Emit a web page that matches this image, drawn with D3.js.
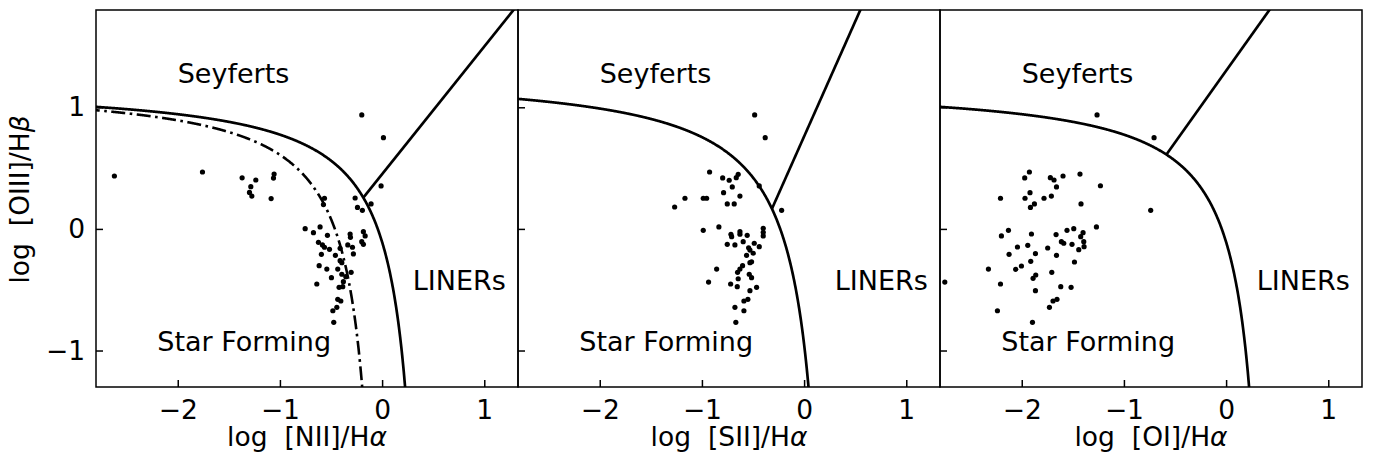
<!DOCTYPE html>
<html><head><meta charset="utf-8">
<script src="https://cdn.jsdelivr.net/npm/d3@7"></script>
<style>body{margin:0;background:#fff}svg{display:block}text{font-family:"DejaVu Sans",sans-serif;fill:#000}</style>
</head><body>
<svg id="c" width="1373" height="458"></svg>
<script>
// ---- data ----
const niiX = [-2.62,-1.758,-1.37,-1.236,-1.285,-1.298,-1.275,-1.057,-1.063,-1.086,-0.199,0.013,-0.01,-0.264,-0.108,-0.241,-0.193,-0.564,-0.574,-0.753,-0.672,-0.607,-0.535,-0.623,-0.584,-0.564,-0.515,-0.594,-0.457,-0.411,-0.313,-0.31,-0.336,-0.29,-0.281,-0.183,-0.166,-0.199,-0.183,-0.411,-0.394,-0.616,-0.541,-0.434,-0.394,-0.355,-0.303,-0.496,-0.379,-0.639,-0.421,-0.385,-0.434,-0.404,-0.443,-0.482,-0.473];
const niiY = [0.435,0.468,0.42,0.402,0.347,0.30,0.27,0.451,0.418,0.249,0.937,0.75,0.353,0.254,0.205,0.177,0.153,0.252,0.20,0.002,-0.031,0.016,-0.053,-0.11,-0.132,-0.151,-0.168,-0.209,-0.217,-0.16,-0.042,-0.069,-0.132,-0.151,-0.206,-0.023,-0.058,-0.105,-0.127,-0.261,-0.278,-0.302,-0.33,-0.33,-0.373,-0.393,-0.357,-0.401,-0.434,-0.453,-0.48,-0.475,-0.579,-0.593,-0.645,-0.673,-0.768];
const siiX = [-0.484,-0.381,-0.925,-0.797,-0.733,-0.664,-0.645,-0.703,-0.788,-0.628,-0.439,-0.752,-0.684,-1.166,-0.987,-0.954,-1.267,-0.22,-0.987,-0.834,-0.716,-0.709,-0.628,-0.628,-0.557,-0.4,-0.4,-0.4,-0.752,-0.677,-0.596,-0.543,-0.488,-0.439,-0.53,-0.498,-0.563,-0.514,-0.53,-0.602,-0.628,-0.651,-0.856,-0.537,-0.514,-0.645,-0.935,-0.719,-0.654,-0.465,-0.53,-0.55,-0.589,-0.677,-0.589,-0.668];
const siiY = [0.937,0.75,0.468,0.419,0.40,0.421,0.449,0.345,0.298,0.27,0.353,0.205,0.205,0.252,0.252,0.252,0.18,0.153,-0.012,0.016,-0.044,-0.064,-0.023,-0.044,-0.053,0.005,-0.028,-0.058,-0.127,-0.132,-0.105,-0.155,-0.118,-0.146,-0.174,-0.2,-0.217,-0.27,-0.278,-0.302,-0.33,-0.357,-0.33,-0.373,-0.401,-0.41,-0.437,-0.453,-0.475,-0.48,-0.508,-0.579,-0.593,-0.645,-0.673,-0.768];
const oiX = [-1.263,-0.705,-1.925,-1.971,-1.72,-1.684,-1.596,-1.43,-1.66,-1.23,-1.919,-2.208,-1.968,-1.782,-1.71,-1.876,-1.915,-1.42,-0.738,-2.13,-2.199,-1.905,-1.664,-1.557,-1.491,-1.269,-1.40,-1.423,-1.612,-1.589,-1.508,-1.393,-1.39,-1.442,-2.042,-1.941,-1.746,-2.124,-1.866,-1.66,-1.912,-1.484,-2.003,-2.059,-2.326,-1.706,-1.863,-1.889,-2.753,-2.208,-1.618,-1.517,-1.866,-1.655,-1.694,-1.729,-2.238,-1.895];
const oiY = [0.937,0.75,0.468,0.419,0.421,0.402,0.435,0.451,0.345,0.355,0.298,0.252,0.252,0.252,0.27,0.205,0.177,0.205,0.153,-0.012,-0.058,-0.042,-0.047,-0.012,0.002,0.016,-0.031,-0.064,-0.105,-0.118,-0.127,-0.105,-0.146,-0.171,-0.149,-0.135,-0.157,-0.209,-0.204,-0.217,-0.267,-0.272,-0.305,-0.332,-0.33,-0.357,-0.379,-0.406,-0.437,-0.453,-0.475,-0.48,-0.508,-0.579,-0.593,-0.645,-0.673,-0.768];

// demarcation curves: y = a/(x-b)+c ; lines: y = m*x + k
const kewleyNII = [0.61, 0.47, 1.19];
const kauffmannNII = [0.61, 0.05, 1.19];
const kewleySII = [0.72, 0.32, 1.30];
const linerNII = [1.05, 0.45];
const linerSII = [1.89, 0.76];
const linerOI  = [1.18, 1.30];

const xTicks = [-2, -1, 0, 1];
const yTicks = [-1, 0, 1];
const xLabels = [["[NII]/H", "\u03b1"], ["[SII]/H", "\u03b1"], ["[OI]/H", "\u03b1"]];
const yLabel = ["[OIII]/H", "\u03b2"];
const regionLabels = [["Seyferts", -2.0, 1.2], ["LINERs", 0.3, -0.5], ["Star Forming", -2.2, -1.0]];

const panels = [
  {xs: niiX, ys: niiY, curve: kewleyNII, dashed: kauffmannNII, line: linerNII, xl: xLabels[0]},
  {xs: siiX, ys: siiY, curve: kewleySII, dashed: null, line: linerSII, xl: xLabels[1]},
  {xs: oiX,  ys: oiY,  curve: kewleyNII, dashed: null, line: linerOI,  xl: xLabels[2]}
];

// ---- layout ----
const svg = d3.select("#c");
const topM = 10, ph = 377, pw = 422, lefts = [96, 518, 940];
const xDomain = [-2.8, 1.33], yDomain = [-1.3, 1.8];
const FS = 26.5;

const hyper = c => v => c[0] / (v - c[1]) + c[2];
const lin = l => v => l[0] * v + l[1];
const fmt = d => d < 0 ? "\u2212" + Math.abs(d) : String(d);

function mathLabel(sel, parts) {
  sel.append("tspan").text("log");
  sel.append("tspan").attr("dx", 17).text(parts[0]);
  sel.append("tspan").attr("font-style", "italic").text(parts[1]);
}

panels.forEach((p, i) => {
  const g = svg.append("g").attr("transform", `translate(${lefts[i]},${topM})`);
  const x = d3.scaleLinear().domain(xDomain).range([0, pw]);
  const y = d3.scaleLinear().domain(yDomain).range([ph, 0]);
  const cid = "clip" + i;
  g.append("clipPath").attr("id", cid).append("rect").attr("width", pw).attr("height", ph);
  const pg = g.append("g").attr("clip-path", `url(#${cid})`);

  const lineGen = d3.line().x(d => x(d[0])).y(d => y(d[1]));
  function curvePts(c) {
    const f = hyper(c);
    const xEnd = c[1] + c[0] / (yDomain[0] - 0.2 - c[2]);
    return d3.range(0, 801).map(k => {
      const xx = xDomain[0] - 0.1 + (xEnd - xDomain[0] + 0.1) * k / 800;
      return [xx, f(xx)];
    });
  }
  if (p.dashed) {
    pg.append("path").attr("d", lineGen(curvePts(p.dashed)))
      .attr("fill", "none").attr("stroke", "#000").attr("stroke-width", 2.6)
      .attr("stroke-dasharray", "14,4.5,2.6,4.5");
  }
  pg.append("path").attr("d", lineGen(curvePts(p.curve)))
    .attr("fill", "none").attr("stroke", "#000").attr("stroke-width", 2.7);
  const f = hyper(p.curve), l = lin(p.line);
  let a = -2.5, b = p.curve[1] - 0.01;
  for (let k = 0; k < 60; k++) { const m = (a + b) / 2; if ((f(m) - l(m)) > 0) a = m; else b = m; }
  const x0 = (a + b) / 2, x1 = (yDomain[1] + 0.2 - p.line[1]) / p.line[0];
  pg.append("path").attr("d", lineGen([[x0, l(x0)], [x1, l(x1)]]))
    .attr("fill", "none").attr("stroke", "#000").attr("stroke-width", 2.7);

  pg.selectAll("circle.pt").data(p.xs.map((v, k) => [v, p.ys[k]])).enter().append("circle")
    .attr("cx", d => x(d[0])).attr("cy", d => y(d[1])).attr("r", 2.6).attr("fill", "#000");

  regionLabels.forEach(r => {
    g.append("text").attr("x", x(r[1])).attr("y", y(r[2])).attr("font-size", 27).text(r[0]);
  });

  const xa = g.append("g").attr("transform", `translate(0,${ph})`)
    .call(d3.axisBottom(x).tickValues(xTicks).tickSizeInner(-7).tickSizeOuter(0).tickPadding(13)
      .tickFormat(fmt));
  xa.select(".domain").remove();
  xa.selectAll("line").attr("stroke", "#000").attr("stroke-width", 1.5);
  xa.selectAll("text").attr("font-size", FS).attr("font-family", "DejaVu Sans").attr("fill", "#000");
  const ya = g.append("g")
    .call(d3.axisLeft(y).tickValues(yTicks).tickSizeInner(-7).tickSizeOuter(0).tickPadding(11)
      .tickFormat(d => i === 0 ? fmt(d) : ""));
  ya.select(".domain").remove();
  ya.selectAll("line").attr("stroke", "#000").attr("stroke-width", 1.5);
  ya.selectAll("text").attr("font-size", FS).attr("font-family", "DejaVu Sans").attr("fill", "#000");

  g.append("rect").attr("width", pw).attr("height", ph).attr("fill", "none")
    .attr("stroke", "#000").attr("stroke-width", 1.5);

  const xt = g.append("text").attr("x", pw / 2).attr("y", 436).attr("text-anchor", "middle")
    .attr("font-size", FS);
  mathLabel(xt, p.xl);
  if (i === 0) {
    const yt = g.append("text").attr("transform", `translate(-67,${ph / 2 + 1}) rotate(-90)`)
      .attr("text-anchor", "middle").attr("font-size", FS);
    mathLabel(yt, yLabel);
  }
});
</script>
</body></html>
